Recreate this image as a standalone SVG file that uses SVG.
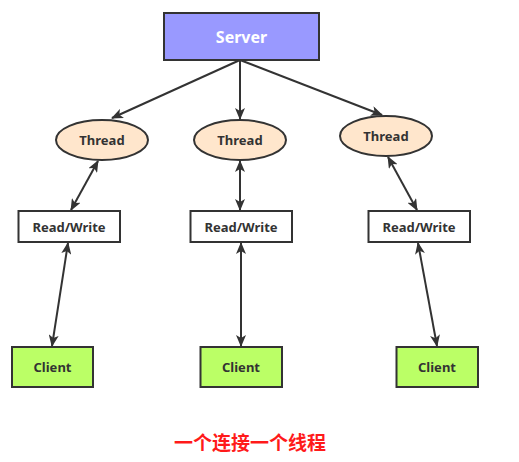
<svg xmlns="http://www.w3.org/2000/svg" width="519" height="462" viewBox="0 0 519 462">
<defs>
<style>
.box{stroke:#333;stroke-width:2}
.t{font-family:"Noto Sans","Liberation Sans",sans-serif;font-weight:bold;font-size:13px;fill:#333;text-anchor:middle;dominant-baseline:central}
.e{stroke:#333;stroke-width:2;fill:none}
</style>
<marker id="ah" viewBox="0 0 12 10" refX="11" refY="5" markerWidth="12" markerHeight="10" markerUnits="userSpaceOnUse" orient="auto-start-reverse">
<path d="M0,0 L12,5 L0,10 L3,5 z" fill="#333"/>
</marker>
</defs>
<rect width="519" height="462" fill="#fff"/>
<g id="connectors">
<line class="e" x1="240" y1="60" x2="112" y2="118" marker-end="url(#ah)"/>
<line class="e" x1="240" y1="60" x2="240" y2="119" marker-end="url(#ah)"/>
<line class="e" x1="240" y1="60" x2="382" y2="115" marker-end="url(#ah)"/>
<line class="e" x1="98" y1="161" x2="71" y2="210" marker-start="url(#ah)" marker-end="url(#ah)"/>
<line class="e" x1="240" y1="161" x2="240" y2="210" marker-start="url(#ah)" marker-end="url(#ah)"/>
<line class="e" x1="388" y1="157" x2="417" y2="210" marker-start="url(#ah)" marker-end="url(#ah)"/>
<line class="e" x1="68" y1="243" x2="52" y2="346" marker-start="url(#ah)" marker-end="url(#ah)"/>
<line class="e" x1="241" y1="243" x2="241" y2="346" marker-start="url(#ah)" marker-end="url(#ah)"/>
<line class="e" x1="418" y1="243" x2="437" y2="346" marker-start="url(#ah)" marker-end="url(#ah)"/>
</g>
<g id="server">
<rect class="box" x="164" y="13" width="155" height="47" fill="#9999ff"/>
<text class="t" x="241.5" y="37" style="fill:#fff;font-size:16px">Server</text>
</g>
<g id="thread1">
<ellipse class="box" cx="102" cy="140" rx="46" ry="20" fill="#ffe6cc"/>
<text class="t" x="102" y="140">Thread</text>
</g>
<g id="thread2">
<ellipse class="box" cx="240" cy="140" rx="46" ry="20" fill="#ffe6cc"/>
<text class="t" x="240" y="140">Thread</text>
</g>
<g id="thread3">
<ellipse class="box" cx="386" cy="136" rx="46" ry="20" fill="#ffe6cc"/>
<text class="t" x="386" y="136">Thread</text>
</g>
<g id="rw1">
<rect class="box" x="18.5" y="211" width="101.5" height="31" fill="#fff"/>
<text class="t" x="69" y="227">Read/Write</text>
</g>
<g id="rw2">
<rect class="box" x="190.5" y="211" width="101.5" height="31" fill="#fff"/>
<text class="t" x="241" y="227">Read/Write</text>
</g>
<g id="rw3">
<rect class="box" x="368.5" y="211" width="101.5" height="31" fill="#fff"/>
<text class="t" x="419" y="227">Read/Write</text>
</g>
<g id="client1">
<rect class="box" x="12" y="347" width="81" height="40" fill="#bbff66"/>
<text class="t" x="52.5" y="367">Client</text>
</g>
<g id="client2">
<rect class="box" x="200.5" y="347" width="81.5" height="40" fill="#bbff66"/>
<text class="t" x="241" y="367">Client</text>
</g>
<g id="client3">
<rect class="box" x="396.5" y="347" width="81.5" height="40" fill="#bbff66"/>
<text class="t" x="437" y="367">Client</text>
</g>
<g id="caption">
<text x="250" y="441" style="font-family:'Noto Sans CJK SC',sans-serif;font-weight:bold;font-size:19px;fill:#ff1a1a;text-anchor:middle;dominant-baseline:central">一个连接一个线程</text>
</g>
</svg>
